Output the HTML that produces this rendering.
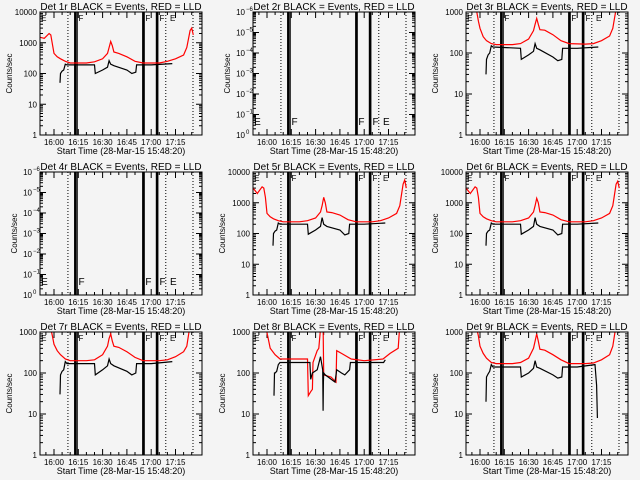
<!DOCTYPE html>
<html><head><meta charset="utf-8"><style>
html,body{margin:0;padding:0;background:#f4f4f4;}
svg{display:block;font-family:"Liberation Sans",sans-serif;}
</style></head><body>
<svg id="chart" width="640" height="480" viewBox="0 0 640 480"></svg>
<script>
// ---- data ----
const tickLabels = ["16:00","16:15","16:30","16:45","17:00","17:15"];
const tickMinutes = [0,15,30,45,60,75];
const panelTitles = ["Det 1r BLACK = Events, RED = LLD","Det 2r BLACK = Events, RED = LLD","Det 3r BLACK = Events, RED = LLD",
 "Det 4r BLACK = Events, RED = LLD","Det 5r BLACK = Events, RED = LLD","Det 6r BLACK = Events, RED = LLD",
 "Det 7r BLACK = Events, RED = LLD","Det 8r BLACK = Events, RED = LLD","Det 9r BLACK = Events, RED = LLD"];
const panelMaxDecade = [4,0,3,0,4,4,3,3,3];
const panelEmpty = [false,true,false,true,false,false,false,false,false];
const redTimes = [-8.6,-6,-3,-2,-1,0,2,4,7,10,20,25,30,33,34,35,36,37,40,45,50,55,65,70,75,80,82,84,85,86];
const red1 = [1500,1400,2000,1800,900,450,350,300,250,220,220,240,300,450,700,1100,800,500,450,350,250,220,220,250,300,400,700,2500,3000,1800];
const red3 = [1500,1200,1500,1000,600,400,250,200,170,160,160,170,220,350,500,700,500,370,360,280,200,170,165,170,200,260,400,1200,2000,2000];
const red5 = [3000,2000,3300,3000,1500,450,350,300,260,240,240,260,320,500,800,1500,1000,500,480,400,280,240,240,260,320,450,800,4000,5500,3000];
const red6 = [3000,2000,3300,3000,1500,450,350,300,260,240,240,260,320,500,800,1400,1000,500,480,400,280,240,240,260,320,450,800,4000,5000,3000];
const red7 = [1500,1200,1500,1200,800,500,350,280,220,200,200,210,280,450,700,900,600,450,420,330,240,200,200,210,250,330,450,1500,2000,2000];
const red9 = [1500,1200,1500,1200,800,450,300,230,180,170,170,180,230,400,600,900,600,380,360,280,210,170,170,175,210,280,450,1500,2000,2000];
const blackTimes = [3.7,4,5,6,7,8,25,25.5,30,33,34,35,37,45,48,50.5,51,60,73];
const black1 = [50,100,120,130,200,190,190,100,130,160,260,200,180,130,100,110,190,190,210];
const black3 = [30,70,90,100,150,140,130,70,90,110,170,130,120,80,65,70,130,130,140];
const black5 = [40,100,120,130,220,200,200,95,130,170,330,200,170,130,90,100,200,200,220];
const black6 = [40,100,120,130,220,200,200,95,130,170,330,200,170,130,90,100,200,200,220];
const black7 = [30,90,110,120,190,170,170,90,120,150,220,170,150,110,90,100,170,170,190];
const black9Times = [3.7,4,5,6,7,8,25,25.5,30,33,34,35,37,45,48,50.5,51,60,71,72,72.5];
const black9 = [20,80,95,110,160,140,140,80,100,130,200,140,130,90,75,80,140,140,160,50,8];
const red8Times = [-1,2,5,8,25,25.5,27,28,28.4,31,32,33,34.6,35,39.5,42.6,43,46,52,60,71.6,76,81,82];
const red8 = [1500,400,280,220,220,28,35,40,180,350,400,1200,1500,90,80,60,350,300,220,200,220,300,400,1500];
const black8Times = [4.3,4.6,5,6,7,8,26.5,27,28,31,33,34.4,34.6,34.8,35,36,42,43,46,48,51,51.5,60,72,73];
const black8 = [28,100,100,110,160,180,180,70,100,120,250,120,12,60,100,90,60,120,100,90,120,180,180,180,210];
const panelRed = [red1,null,red3,null,red5,red6,red7,red8,red9];
const panelRedT = [redTimes,null,redTimes,null,redTimes,redTimes,redTimes,red8Times,redTimes];
const panelBlack = [black1,null,black3,null,black5,black6,black7,black8,black9];
const panelBlackT = [blackTimes,null,blackTimes,null,blackTimes,blackTimes,blackTimes,black8Times,black9Times];
const dottedLines = [8.6,69,85.8];
const solidLines = [13,14.2,55,55.6,63.3,64];

// ---- drawing ----
const NS="http://www.w3.org/2000/svg";
const svg=document.getElementById('chart');
function mk(tag,attrs,parent){const e=document.createElementNS(NS,tag);for(const k in attrs)e.setAttribute(k,attrs[k]);(parent||svg).appendChild(e);return e;}
const L=40,R=202,T=12,B=135;
for(let p=0;p<9;p++){
  const ox=(p%3)*213, oy=Math.floor(p/3)*160;
  const g=mk('g',{transform:`translate(${ox},${oy})`});
  
  
  const xs=t=>L+14+t*1.62;
  const md=panelMaxDecade[p];
  const empty=panelEmpty[p];
  const nDec=empty?6:md;
  const ys=v=>B-(Math.log10(v))*(B-T)/nDec;
  const yd=d=>B-d*(B-T)/nDec;
  const tt=mk('text',{x:121,y:10,'text-anchor':'middle','font-size':10,fill:'#000'},g);
  tt.textContent=panelTitles[p];
  
  
  const yt=mk('text',{x:0,y:0,'text-anchor':'middle','font-size':8,transform:`translate(${empty?17:12},${(T+B)/2}) rotate(-90)`},g);
  yt.textContent='Counts/sec';
  
  
  const xt=mk('text',{x:121,y:154,'text-anchor':'middle','font-size':9},g);
  xt.textContent='Start Time (28-Mar-15 15:48:20)';
  
  
  tickMinutes.forEach((m,i)=>{
    const x=xs(m);
    mk('line',{x1:x,x2:x,y1:B,y2:B-6,stroke:'#000'},g);
    mk('line',{x1:x,x2:x,y1:T,y2:T+6,stroke:'#000'},g);
    const lb=mk('text',{x:x,y:145,'text-anchor':'middle','font-size':8},g);
    lb.textContent=tickLabels[i];
    
    
  });
  for(let m=-5;m<=90;m+=5){if(m%15===0)continue;const x=xs(m);if(x<L||x>R)continue;
    mk('line',{x1:x,x2:x,y1:B,y2:B-3,stroke:'#000'},g);mk('line',{x1:x,x2:x,y1:T,y2:T+3,stroke:'#000'},g);}
  for(let d=0;d<=nDec;d++){
    const y=yd(d);
    mk('line',{x1:L,x2:L+6,y1:y,y2:y,stroke:'#000'},g);
    mk('line',{x1:R,x2:R-6,y1:y,y2:y,stroke:'#000'},g);
    if(empty){
      const lb=mk('text',{x:L-8,y:y+3,'text-anchor':'end','font-size':8},g);
      lb.textContent='10';
      const sp=mk('text',{x:L-7,y:y-1,'text-anchor':'start','font-size':6},g);
      sp.textContent=d===0?'0':'−'+d;
      
      
    } else {
      const lb=mk('text',{x:L-3,y:y+3,'text-anchor':'end','font-size':8},g);
      lb.textContent=String(Math.pow(10,d));
      
      
    }
    if(d<nDec)for(let k=2;k<10;k++){const yy=y-Math.log10(k)*(B-T)/nDec;
      mk('line',{x1:L,x2:L+3,y1:yy,y2:yy,stroke:'#000'},g);mk('line',{x1:R,x2:R-3,y1:yy,y2:yy,stroke:'#000'},g);}
  }
  dottedLines.forEach(t=>{const x=xs(t);mk('line',{x1:x,x2:x,y1:T,y2:B,stroke:'#000','stroke-dasharray':'1,2'},g);});
  solidLines.forEach((t,i)=>{const x=xs(t);mk('line',{x1:x,x2:x,y1:T,y2:B,stroke:'#000','stroke-width':(i===0||i===2)?2:1.5},g);});
  const mkY=empty?B-14:T+5;
  [[-8.6,'E'],[14.5,'F'],[55.8,'F'],[64.5,'F'],[71,'E']].forEach(([t,s])=>{
    const tx=mk('text',{x:xs(t)+1,y:mkY+4,'font-size':empty?10:8},g);tx.textContent=s;
    
    
  });
  const clip=mk('clipPath',{id:'c'+p},g);mk('rect',{x:L,y:T,width:R-L,height:B-T},clip);
  const draw=(tArr,vArr,col,name)=>{
    if(!vArr)return;
    let d='';
    for(let i=0;i<tArr.length;i++){const x=xs(tArr[i]),y=ys(vArr[i]);
      d+=(i===0?'M':'L')+x.toFixed(1)+','+y.toFixed(1);}
    const pa=mk('path',{d:d,fill:'none',stroke:col,'stroke-width':1.2,'clip-path':`url(#c${p})`},g);
    
    
  };
  draw(panelRedT[p],panelRed[p],'#ff0000','lld-series');
  draw(panelBlackT[p],panelBlack[p],'#000000','events-series');
  const fr=mk('rect',{x:L,y:T,width:R-L,height:B-T,fill:'none',stroke:'#000','stroke-width':1},g);
  
  
}
</script>
</body></html>
